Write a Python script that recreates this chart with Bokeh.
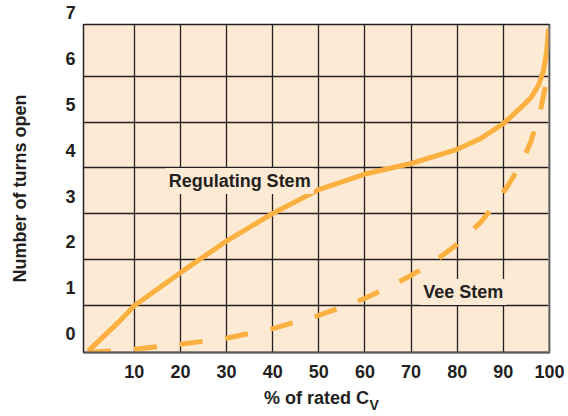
from bokeh.plotting import figure
from bokeh.models import FixedTicker, Label, Range1d, Span
from bokeh.embed import file_html
from bokeh.resources import INLINE

# ---- data ----
pct_ticks = [10, 20, 30, 40, 50, 60, 70, 80, 90, 100]
turn_ticks = [0, 1, 2, 3, 4, 5, 6]
top_turn_tick = 7
grid_x = [10, 20, 30, 40, 50, 60, 70, 80, 90]
grid_y = [0.62, 1.62, 2.62, 3.62, 4.61, 5.61]

reg_pct = [0, 7, 10, 20, 30, 40, 50, 60, 70, 80, 85, 90, 93.5, 96, 97.6, 98.7, 99.4, 99.8]
reg_turns = [-0.38, 0.29, 0.61, 1.33, 2.02, 2.62, 3.14, 3.48, 3.71, 4.02, 4.25, 4.58,
             4.90, 5.15, 5.41, 5.73, 6.17, 6.65]

vee_pct = [0, 10, 20, 30, 40, 50, 55, 60, 65, 70, 75, 80, 85, 88, 91, 94, 96, 98, 99.6]
vee_turns = [-0.41, -0.34, -0.23, -0.10, 0.11, 0.40, 0.58, 0.77, 1.01, 1.27, 1.57, 1.95,
             2.42, 2.79, 3.23, 3.72, 4.20, 4.85, 5.63]

FONT = "Liberation Sans"
INK = "#231F20"
BG = "#FDEAD4"
ORANGE = "#FBB040"

p = figure(width=568, height=416,
           x_range=Range1d(-1, 100), y_range=Range1d(-0.41, 6.74),
           output_backend="svg", toolbar_location=None,
           min_border_left=83, min_border_right=19,
           min_border_top=24, min_border_bottom=64,
           background_fill_color=BG, border_fill_color="white")

p.outline_line_color = INK
p.outline_line_width = 1.5

# grid
p.xgrid.ticker = FixedTicker(ticks=grid_x)
p.ygrid.ticker = FixedTicker(ticks=grid_y)
for g in (p.xgrid, p.ygrid):
    g.grid_line_color = INK
    g.grid_line_width = 1.3
    g.grid_line_alpha = 1.0

# x axis
xa = p.xaxis[0]
xa.ticker = FixedTicker(ticks=pct_ticks)
xa.major_tick_line_color = None
xa.minor_tick_line_color = None
xa.major_tick_out = 0
xa.major_tick_in = 0
xa.minor_tick_out = 0
xa.axis_line_color = "#58595B"
xa.axis_line_width = 2
xa.major_label_standoff = 12
xa.major_label_text_font = FONT
xa.major_label_text_font_style = "bold"
xa.major_label_text_font_size = "18px"
xa.major_label_text_color = INK
xa.axis_label = "% of rated C"
xa.axis_label_standoff = 7
xa.axis_label_text_font = FONT
xa.axis_label_text_font_style = "bold"
xa.axis_label_text_font_size = "18px"
xa.axis_label_text_color = INK

# y axis
ya = p.yaxis[0]
ya.ticker = FixedTicker(ticks=turn_ticks)
ya.axis_line_color = None
ya.major_tick_line_color = None
ya.minor_tick_line_color = None
ya.major_tick_out = 0
ya.major_tick_in = 0
ya.minor_tick_out = 0
ya.major_label_standoff = 8
ya.major_label_text_font = FONT
ya.major_label_text_font_style = "bold"
ya.major_label_text_font_size = "18px"
ya.major_label_text_color = INK
ya.axis_label = "Number of turns open"
ya.axis_label_standoff = 32
ya.axis_label_text_font = FONT
ya.axis_label_text_font_style = "bold"
ya.axis_label_text_font_size = "18px"
ya.axis_label_text_color = INK

# the "7" tick label sits above the plotting area (side panel => not clipped)
p.add_layout(Label(x=-2.7, y=top_turn_tick, text=str(top_turn_tick), text_font=FONT,
                   text_font_style="bold", text_font_size="18px", text_color=INK,
                   text_align="right", text_baseline="middle"), "above")

# right border (grey)
p.add_layout(Span(location=100, dimension="height", line_color="#8A8A8A", line_width=2.5))

# curves
p.line(reg_pct, reg_turns, line_color=ORANGE, line_width=5)
p.line(vee_pct, vee_turns, line_color=ORANGE, line_width=5, line_dash="23 23")

# curve labels
p.add_layout(Label(x=16.8, y=3.33, text="Regulating Stem", text_font=FONT,
                   text_font_style="bold", text_font_size="18px", text_color=INK,
                   text_baseline="middle", background_fill_color=BG, padding=3))
p.add_layout(Label(x=72.0, y=0.91, text="Vee Stem", text_font=FONT,
                   text_font_style="bold", text_font_size="18px", text_color=INK,
                   text_baseline="middle", background_fill_color=BG, padding=3))

# subscript of C_V in the x axis title (side panel => not clipped)
p.add_layout(Label(x=61.0, y=-1.56, text="V", text_font=FONT,
                   text_font_style="bold", text_font_size="14px", text_color=INK,
                   text_baseline="alphabetic"), "right")

open("out.html", "w").write(file_html(p, INLINE))
